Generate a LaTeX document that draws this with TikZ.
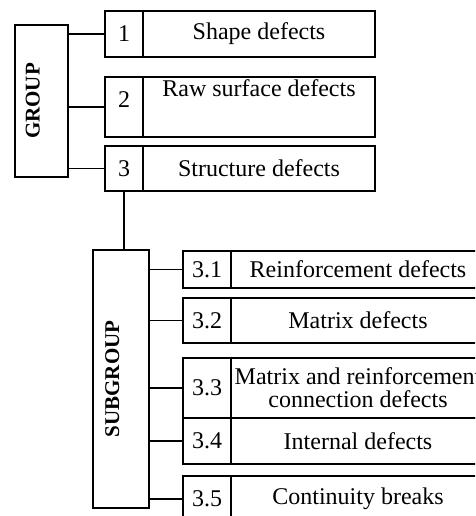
\documentclass[tikz,border=0pt]{standalone}
\usepackage{fontspec}
\setmainfont{Liberation Serif}
\usetikzlibrary{positioning}

\begin{document}
\begin{tikzpicture}[x=1pt,y=-1pt,
    every node/.style={outer sep=0pt,inner sep=0pt,font=\fontsize{24}{23}\selectfont},
    numcell/.style={draw,line width=1.5pt,minimum width=38pt,anchor=north west},
    txtcell/.style={draw,line width=1.8pt,minimum width=232pt,right=0pt of #1},
    subnum/.style={draw,line width=1.5pt,minimum width=48pt,anchor=north west},
    subtxt/.style={draw,line width=2pt,minimum width=254pt,right=0pt of #1,align=center},
    grpbox/.style={draw,line width=2.6pt,rotate=90,font=\fontsize{21}{21}\selectfont\bfseries,
      text height=14pt,text depth=18pt},
    link/.style={line width=1.5pt}]
  \useasboundingbox (0,0) rectangle (475,516);
  \clip (0,0) rectangle (475,516);

  \node[grpbox,minimum width=152pt,minimum height=53pt] (grp) at (41.5,101) {GROUP};
  \node[numcell,minimum height=46pt] (n1) at (105,11) {1};
  \node[txtcell=n1,minimum height=46pt] (t1) {Shape defects};
  \node[numcell,minimum height=60pt,text depth=14pt] (n2) at (105,77) {2};
  \node[txtcell=n2,minimum height=60pt,text height=20pt,text depth=40pt] (t2) {Raw surface defects};
  \node[numcell,minimum height=45pt] (n3) at (105,146) {3};
  \node[txtcell=n3,minimum height=45pt] (t3) {Structure defects};
  \foreach \n in {n1,n2,n3}
    \draw[link] (\n.west) -- (\n.west -| grp.south);

  \node[grpbox,minimum width=258pt,minimum height=56pt] (sub) at (121,379) {SUBGROUP};
  \draw[link] (n3.south) -- (n3.south |- sub.east);
  \node[subnum,minimum height=37pt] (s1) at (183,251) {3.1};
  \node[subtxt=s1,minimum height=37pt] (u1) {Reinforcement defects};
  \node[subnum,minimum height=45pt] (s2) at (183,298) {3.2};
  \node[subtxt=s2,minimum height=45pt] (u2) {Matrix defects};
  \node[subnum,minimum height=60pt] (s3) at (183,358) {3.3};
  \node[subtxt=s3,minimum height=60pt] (u3) {Matrix and reinforcement\\connection defects};
  \node[subnum,minimum height=46pt] (s4) at (183,418) {3.4};
  \node[subtxt=s4,minimum height=46pt] (u4) {Internal defects};
  \node[subnum,minimum height=46pt] (s5) at (183,476) {3.5};
  \node[subtxt=s5,minimum height=46pt] (u5) {Continuity breaks};
  \foreach \n in {s1,s2,s3,s4,s5}
    \draw[link] (\n.west) -- (\n.west -| sub.south);
\end{tikzpicture}
\end{document}
